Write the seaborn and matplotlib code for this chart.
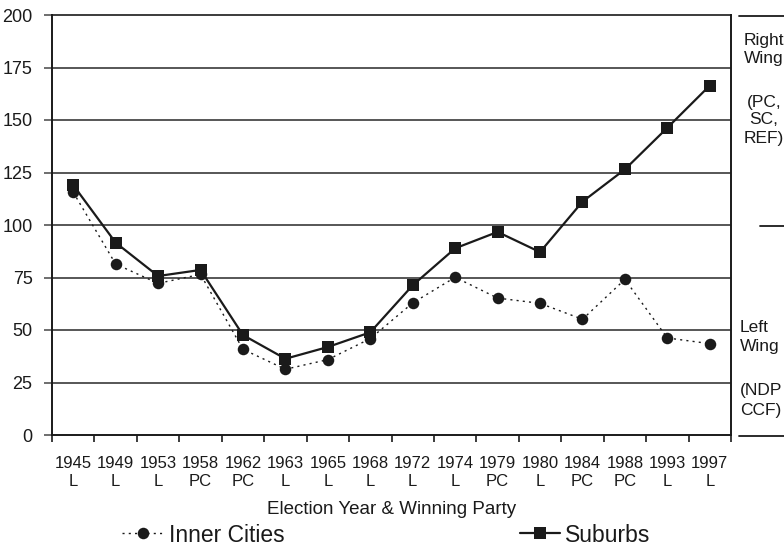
import matplotlib
matplotlib.use("Agg")
import matplotlib.pyplot as plt
from matplotlib.lines import Line2D
import seaborn as sns
import pandas as pd
import numpy as np

years = ["1945", "1949", "1953", "1958", "1962", "1963", "1965", "1968",
         "1972", "1974", "1979", "1980", "1984", "1988", "1993", "1997"]
parties = ["L", "L", "L", "PC", "PC", "L", "L", "L",
           "L", "L", "PC", "L", "PC", "PC", "L", "L"]
inner_cities = [115.6, 81.4, 72.2, 76.5, 40.8, 31.3, 35.9, 45.9,
                62.9, 75.1, 65.2, 62.7, 55.1, 74.1, 46.2, 43.5]
suburbs = [119.0, 91.6, 75.7, 78.6, 47.6, 36.3, 41.9, 48.9,
           71.3, 88.9, 96.7, 87.1, 111.1, 126.5, 146.3, 166.4]
y_ticks = [0, 25, 50, 75, 100, 125, 150, 175, 200]

sns.set_theme(style="white")
plt.rcParams['font.family'] = ['Liberation Sans', 'DejaVu Sans']
INK = "#1a1a1a"

W, H = 784, 548
fig = plt.figure(figsize=(W / 100, H / 100), dpi=100)
L, R, T, B = 52, 731, 15, 435
ax = fig.add_axes([L / W, 1 - B / H, (R - L) / W, (B - T) / H])

df = pd.DataFrame({"idx": np.arange(len(years)), "inner": inner_cities, "sub": suburbs})

for yv in y_ticks[1:-1]:
    ax.axhline(yv, color="#3a3a3a", lw=1.2, zorder=0)

MS = 8.3
sns.lineplot(data=df, x="idx", y="inner", ax=ax, color=INK, lw=1.0,
             linestyle=(0, (1.5, 3)), marker="o", markersize=MS,
             markeredgewidth=0, markerfacecolor=INK, label="Inner Cities",
             legend=False, zorder=3)
sns.lineplot(data=df, x="idx", y="sub", ax=ax, color=INK, lw=1.6,
             linestyle="-", marker="s", markersize=MS,
             markeredgewidth=0, markerfacecolor=INK, label="Suburbs",
             legend=False, zorder=4)

ax.set_xlim(-0.5, len(years) - 0.5)
ax.set_ylim(0, 200)
ax.set_yticks(y_ticks)
ax.set_yticklabels([str(v) for v in y_ticks], fontsize=13, color=INK)
ax.set_xticks(np.arange(len(years)))
ax.set_xticklabels([f"{y}\n{p}" for y, p in zip(years, parties)],
                   fontsize=12, color=INK, linespacing=1.3)
ax.set_xticks(np.arange(len(years) + 1) - 0.5, minor=True)
ax.tick_params(axis="x", which="major", length=0, pad=15)
ax.tick_params(axis="x", which="minor", length=5, width=1.2, color=INK, bottom=True)
ax.tick_params(axis="y", which="major", length=6, width=1.2, color="#555555",
               left=True, pad=8)
ax.set_xlabel("Election Year & Winning Party", fontsize=13.5, color=INK, labelpad=8)
ax.set_ylabel("")

for s in ax.spines.values():
    s.set_visible(True)
    s.set_color(INK)
    s.set_linewidth(1.4)
ax.spines["top"].set_linewidth(1.2)

# Legends
h_inner = Line2D([], [], color=INK, lw=1.0, linestyle=(0, (1.5, 3)), marker="o",
                 markersize=MS, markeredgewidth=0)
h_sub = Line2D([], [], color=INK, lw=1.6, linestyle="-", marker="s",
               markersize=MS, markeredgewidth=0)
leg1 = fig.legend(handles=[h_inner], labels=["Inner Cities"], loc="center left",
                  bbox_to_anchor=(122 / W, 1 - 535 / H), frameon=False,
                  fontsize=16.5, handlelength=1.85, handletextpad=0.2,
                  borderpad=0, borderaxespad=0, numpoints=1)
leg2 = fig.legend(handles=[h_sub], labels=["Suburbs"], loc="center left",
                  bbox_to_anchor=(520 / W, 1 - 535 / H), frameon=False,
                  fontsize=16.5, handlelength=1.75, handletextpad=0.2,
                  borderpad=0, borderaxespad=0, numpoints=1)
for lg in (leg1, leg2):
    for t in lg.get_texts():
        t.set_color(INK)

# Right-side bracket annotation
def hline(x0, x1, y):
    fig.add_artist(Line2D([x0 / W, x1 / W], [1 - y / H, 1 - y / H],
                          color=INK, lw=1.3, transform=fig.transFigure))

hline(739, 784, 16)
hline(760, 784, 226)
hline(739, 784, 436)

fs_r = 12.5
for txt, y in [("Right", 40), ("Wing", 58), ("(PC,", 102), ("SC,", 120), ("REF)", 139)]:
    fig.text(764 / W, 1 - y / H, txt, ha="center", va="center", fontsize=fs_r, color=INK)
for txt, y in [("Left", 328), ("Wing", 347), ("(NDP", 391), ("CCF)", 410)]:
    fig.text(740 / W, 1 - y / H, txt, ha="left", va="center", fontsize=fs_r, color=INK)

fig.savefig("out.png", dpi=100)
